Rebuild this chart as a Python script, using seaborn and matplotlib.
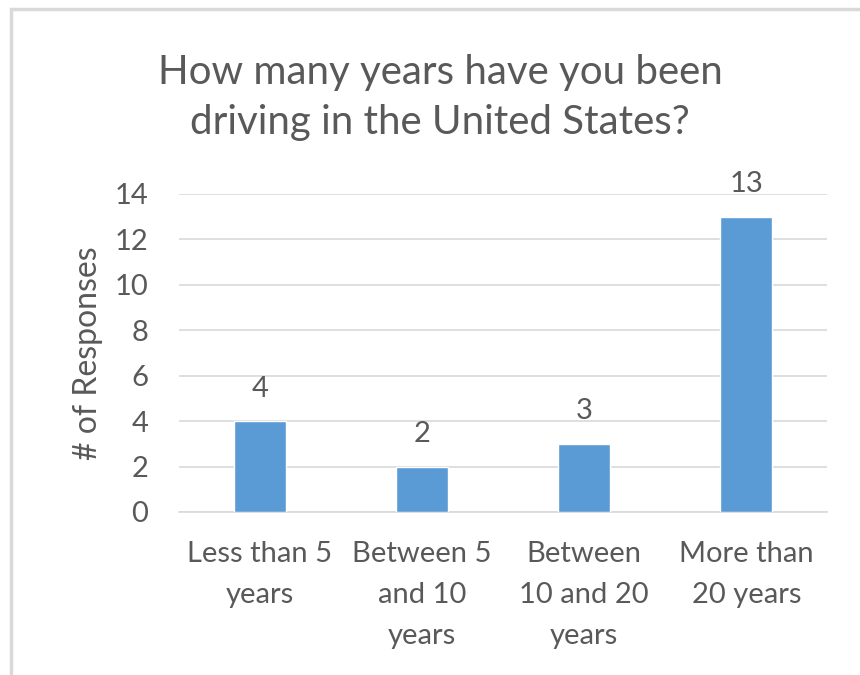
import matplotlib
matplotlib.use("Agg")
import matplotlib.pyplot as plt
import seaborn as sns
import pandas as pd
from matplotlib.patches import Rectangle

categories = ["Less than 5\nyears", "Between 5\nand 10\nyears", "Between\n10 and 20\nyears", "More than\n20 years"]
responses = [4, 2, 3, 13]

df = pd.DataFrame({"category": categories, "responses": responses})

sns.set_theme(style="white")
plt.rcParams['font.family'] = ['Lato', 'DejaVu Sans']

text_color = "#595959"
grid_color = "#D9D9D9"
bar_color = "#5B9BD5"

fig = plt.figure(figsize=(8.6, 6.75), dpi=100)
ax = fig.add_axes([0.208, 0.2415, 0.754, 0.4711])

sns.barplot(data=df, x="category", y="responses", color=bar_color, width=0.32,
            saturation=1, ax=ax, zorder=3)

ax.set_ylim(0, 14)
ax.set_yticks(range(0, 15, 2))
ax.grid(axis="y", color=grid_color, linewidth=1.2, zorder=0)
for s in ["top", "right", "left"]:
    ax.spines[s].set_visible(False)
ax.spines["bottom"].set_color(grid_color)
ax.spines["bottom"].set_linewidth(1.2)

ax.tick_params(axis="both", length=0, labelsize=21, labelcolor=text_color)
ax.tick_params(axis="y", pad=22)
ax.tick_params(axis="x", pad=21)
for lbl in ax.get_xticklabels():
    lbl.set_linespacing(1.72)

ax.set_xlabel("")
ax.set_ylabel("# of Responses", fontsize=23, color=text_color, labelpad=8)

for i, v in enumerate(responses):
    ax.annotate(str(v), (i, v), xytext=(0, 14), textcoords="offset points",
                ha="center", va="bottom", fontsize=21, color=text_color)

fig.text(0.512, 0.856, "How many years have you been\ndriving in the United States?",
         ha="center", va="center", fontsize=29, color=text_color, linespacing=1.43)

fig.patches.append(Rectangle((11 / 860, -0.1), 1.2, 1 - 9 / 675 + 0.1,
                             transform=fig.transFigure, fill=False,
                             edgecolor=grid_color, linewidth=2.5))

fig.savefig("out.png", dpi=100, facecolor="white")
